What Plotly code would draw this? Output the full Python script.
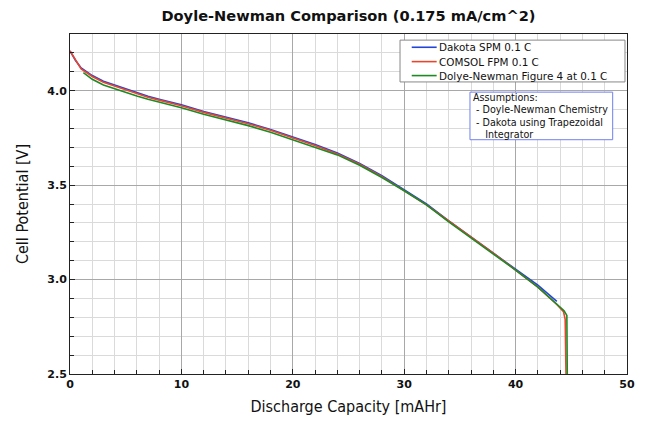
import plotly.graph_objects as go

# Dakota SPM 0.1 C
blue_x = [0, 0.5, 1, 2, 3, 4, 5, 6, 7, 8, 10, 12, 14, 16, 18, 20, 22, 24, 26, 28, 30, 32, 34, 36, 38, 40, 42, 43.7]
blue_y = [4.21, 4.16, 4.12, 4.08, 4.05, 4.03, 4.01, 3.99, 3.97, 3.955, 3.925, 3.89, 3.86, 3.83, 3.795, 3.755,
          3.715, 3.67, 3.615, 3.55, 3.475, 3.40, 3.31, 3.225, 3.14, 3.055, 2.97, 2.885]

# COMSOL FPM 0.1 C
red_x = [0, 0.5, 1, 2, 3, 4, 5, 6, 7, 8, 10, 12, 14, 16, 18, 20, 22, 24, 26, 28, 30, 32, 34, 36, 38, 40, 42,
         43.7, 44.3, 44.45, 44.55]
red_y = [4.21, 4.16, 4.115, 4.075, 4.045, 4.025, 4.005, 3.985, 3.965, 3.95, 3.92, 3.885, 3.855, 3.825, 3.79,
         3.75, 3.71, 3.665, 3.61, 3.545, 3.47, 3.395, 3.31, 3.225, 3.14, 3.05, 2.96, 2.868, 2.83, 2.79, 2.4]

# Dolye-Newman Figure 4 at 0.1 C
green_x = [1.2, 2, 3, 4, 5, 6, 7, 8, 10, 12, 14, 16, 18, 20, 22, 24, 26, 28, 30, 32, 34, 36, 38, 40, 42,
           43.7, 44.35, 44.6, 44.65]
green_y = [4.095, 4.06, 4.03, 4.01, 3.99, 3.972, 3.955, 3.94, 3.91, 3.875, 3.845, 3.815, 3.78, 3.74, 3.70,
           3.66, 3.605, 3.54, 3.47, 3.395, 3.305, 3.22, 3.135, 3.05, 2.96, 2.87, 2.835, 2.81, 2.4]

series_names = ["Dakota SPM 0.1 C", "COMSOL FPM 0.1 C", "Dolye-Newman Figure 4 at 0.1 C"]
series_colors = ["#2346d8", "#e8452c", "#1f8a24"]
assumption_text = ("Assumptions:<br>&nbsp;- Doyle-Newman Chemistry<br>&nbsp;- Dakota using Trapezoidal"
                   "<br>&nbsp;&nbsp;&nbsp;&nbsp;Integrator")

x_ticks = [0, 10, 20, 30, 40, 50]
y_ticks = [2.5, 3.0, 3.5, 4.0]

fig = go.Figure()
for xs, ys, nm, col in zip([blue_x, red_x, green_x], [blue_y, red_y, green_y], series_names, series_colors):
    fig.add_trace(go.Scatter(x=xs, y=ys, mode="lines", name=nm, showlegend=False,
                             line=dict(color=col, width=1.6)))

tickfont = dict(family="DejaVu Sans", size=11, color="#111111", weight="bold")
fig.update_layout(
    width=646, height=424,
    margin=dict(l=70, r=19, t=34, b=50),
    paper_bgcolor="white", plot_bgcolor="white",
    title=dict(text="<b>Doyle-Newman Comparison (0.175 mA/cm^2)</b>", x=0.5, xref="paper",
               y=1 - 16 / 424, yanchor="middle",
               font=dict(family="DejaVu Sans", size=14.6, color="#111111")),
    showlegend=False,
    xaxis=dict(range=[0, 50], tickvals=x_ticks, ticktext=[str(v) for v in x_ticks],
               tickfont=tickfont, ticks="inside", ticklen=5, tickcolor="#222222",
               showline=True, linecolor="#222222", linewidth=1, mirror=True,
               showgrid=True, gridcolor="#a8a8a8", gridwidth=1.2, zeroline=False,
               minor=dict(dtick=2, tick0=0, ticks="inside", ticklen=4, tickcolor="#222222",
                          showgrid=True, gridcolor="#dadada", gridwidth=1.2),
               title=dict(text="Discharge Capacity [mAHr]", standoff=10,
                          font=dict(family="DejaVu Sans Condensed, DejaVu Sans", size=16, color="#111111"))),
    yaxis=dict(range=[2.5, 4.3], tickvals=y_ticks, ticktext=["%.1f" % v for v in y_ticks],
               tickfont=tickfont, ticks="inside", ticklen=5, tickcolor="#222222",
               showline=True, linecolor="#222222", linewidth=1, mirror=True,
               showgrid=True, gridcolor="#a8a8a8", gridwidth=1.2, zeroline=False,
               minor=dict(dtick=0.1, tick0=2.5, ticks="inside", ticklen=4, tickcolor="#222222",
                          showgrid=True, gridcolor="#dadada", gridwidth=1.2),
               title=dict(text="Cell Potential [V]", standoff=14,
                          font=dict(family="DejaVu Sans Condensed, DejaVu Sans", size=16, color="#111111"))),
)

# Legend box (drawn manually for compact row spacing)
fig.add_shape(type="rect", xref="paper", yref="paper", x0=0.5925, x1=0.9964, y0=0.859, y1=0.982,
              line=dict(color="#888888", width=1), fillcolor="white", layer="above")
legend_rows = [0.961, 0.9188, 0.8777]
for nm, col, ry in zip(series_names, series_colors, legend_rows):
    fig.add_shape(type="line", xref="paper", yref="paper", x0=0.6135, x1=0.6583, y0=ry, y1=ry,
                  line=dict(color=col, width=1.6), layer="above")
    fig.add_annotation(xref="paper", yref="paper", x=0.661, y=ry, xanchor="left", yanchor="middle",
                       text=nm, showarrow=False, borderpad=0,
                       font=dict(family="DejaVu Sans", size=10.4, color="#111111"))

# Assumptions box
fig.add_shape(type="rect", xref="paper", yref="paper", x0=0.7181, x1=0.9743, y0=0.6891, y1=0.829,
              line=dict(color="#7080f0", width=1), fillcolor="white", layer="above")
fig.add_annotation(xref="paper", yref="paper", x=0.7215, y=0.759, xanchor="left", yanchor="middle",
                   text=assumption_text, align="left", showarrow=False, borderpad=0,
                   font=dict(family="DejaVu Sans", size=9.6, color="#111111"))

fig.write_html("out.html")
